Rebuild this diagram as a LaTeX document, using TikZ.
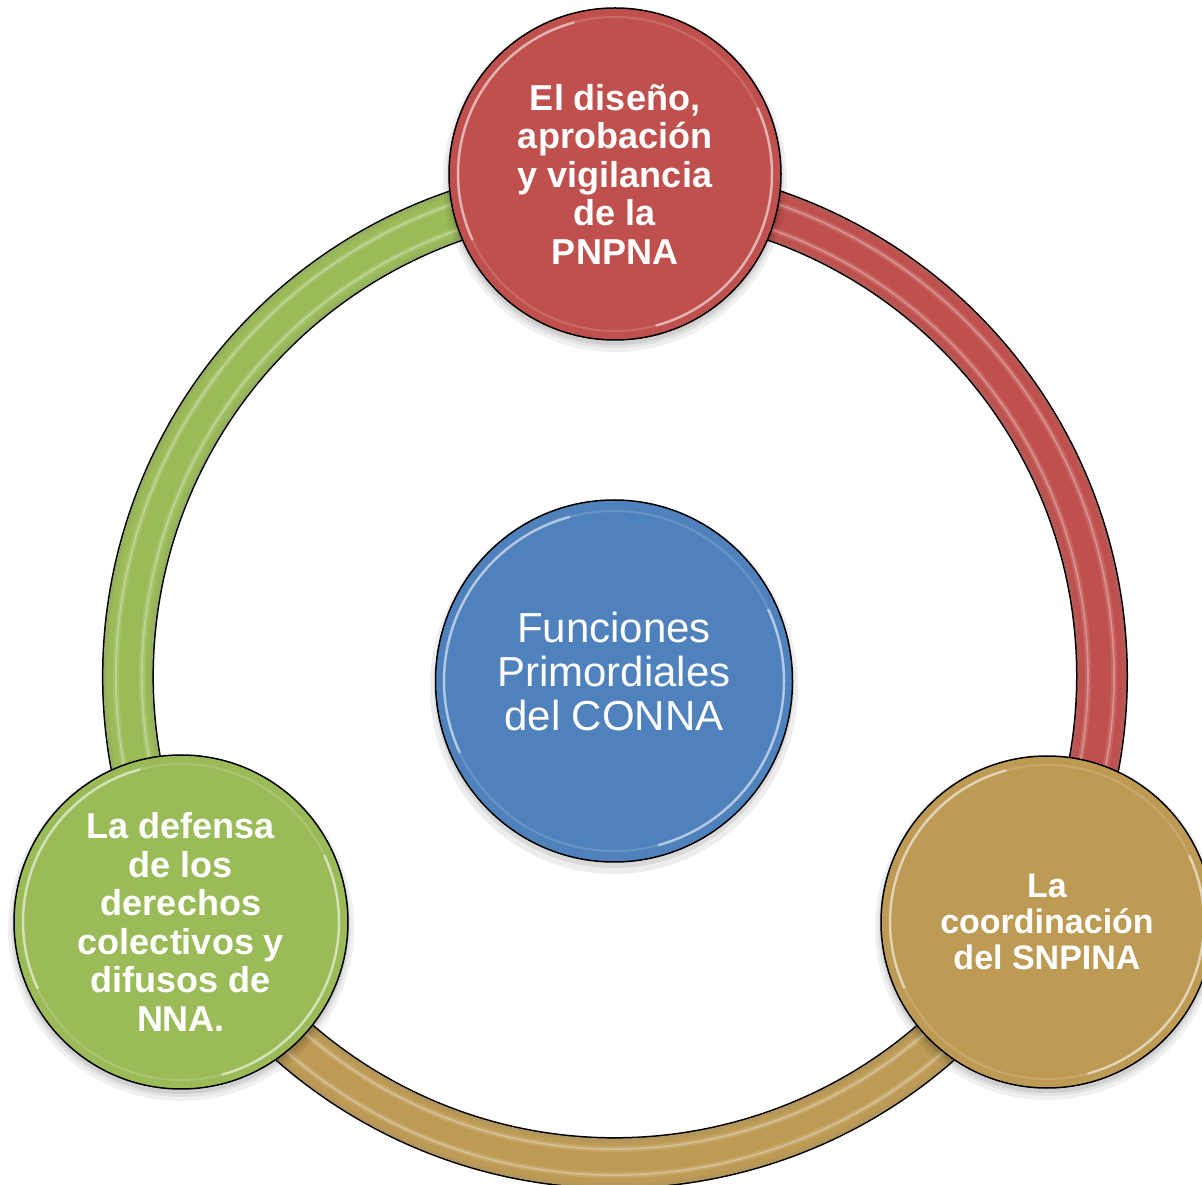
\documentclass[tikz,border=0pt]{standalone}
\usepackage{fontspec}
\setmainfont{Liberation Sans}
\usetikzlibrary{calc,shapes.geometric}
\definecolor{cred}{HTML}{C0504D}
\definecolor{cblue}{HTML}{4F81BD}
\definecolor{cgreen}{HTML}{9BBB59}
\definecolor{cgold}{HTML}{BE9B55}

\newcommand{\ringseg}[3]{%
  \draw[line width=52pt, black] ($(rc)+(#2:487)$) arc[start angle=#2, end angle=#3, radius=487];
  \draw[line width=49pt, #1!78!gray] ($(rc)+(#2:487)$) arc[start angle=#2, end angle=#3, radius=487];
  \draw[line width=45pt, #1!90!gray] ($(rc)+(#2:487)$) arc[start angle=#2, end angle=#3, radius=487];
  \draw[line width=40pt, #1] ($(rc)+(#2:487)$) arc[start angle=#2, end angle=#3, radius=487];
  \draw[line width=6pt, #1!60!white, opacity=0.3] ($(rc)+(#2:499)$) arc[start angle=#2, end angle=#3, radius=499];
  \draw[line width=1.6pt, #1!35!white, opacity=0.5] ($(rc)+(#2:499)$) arc[start angle=#2, end angle=#3, radius=499];
  \draw[line width=6pt, #1!60!white, opacity=0.3] ($(rc)+(#2:473)$) arc[start angle=#2, end angle=#3, radius=473];
  \draw[line width=1.6pt, #1!35!white, opacity=0.5] ($(rc)+(#2:473)$) arc[start angle=#2, end angle=#3, radius=473];
}
\newcommand{\softshadow}[2]{%
  \fill[black, opacity=0.06] ($(#1)+(0,-6)$) circle[radius=#2+6];
  \fill[black, opacity=0.06] ($(#1)+(0,-5)$) circle[radius=#2+3];
  \fill[black, opacity=0.08] ($(#1)+(0,-4)$) circle[radius=#2+1];
}
\newcommand{\rimlight}[2]{%
  \draw[white, opacity=0.15, line width=2pt] (#1.center) circle[radius=#2];
  \draw[white, opacity=0.5, line width=2.5pt] ($(#1.center)+(105:#2)$) arc[start angle=105, end angle=205, radius=#2];
  \draw[white, opacity=0.5, line width=2.5pt] ($(#1.center)+(-75:#2)$) arc[start angle=-75, end angle=25, radius=#2];
}

\tikzset{
  bubble/.style={circle, draw=black, line width=1.5pt, inner sep=0pt, text=white, align=center},
  outertext/.style={font=\bfseries\fontsize{36}{38.5}\selectfont},
}

\begin{document}
\begin{tikzpicture}[x=1pt,y=1pt]
\useasboundingbox (0,0) rectangle (1202,1184);
\coordinate (rc) at (615,508);
\coordinate (pr) at (615,1010);
\coordinate (pg) at (181,262);
\coordinate (py) at (1047,262);
\coordinate (pb) at (614,503);

% ring segments
\ringseg{cred}{90}{-30}
\ringseg{cgold}{-30}{-150}
\ringseg{cgreen}{210}{90}

% shadows
\softshadow{pr}{166}
\softshadow{pg}{167}
\softshadow{py}{166}
\fill[black, opacity=0.07] ($(pb)+(0,-6)$) ellipse[x radius=184, y radius=187];
\fill[black, opacity=0.08] ($(pb)+(0,-4)$) ellipse[x radius=180, y radius=183];

% circles
\node[bubble, fill=cred, minimum size=332pt, outertext] (red) at (pr)
  {El diseño,\\aprobación\\y vigilancia\\de la\\PNPNA};
\node[bubble, fill=cgreen, minimum size=334pt, outertext] (green) at (pg)
  {La defensa\\de los\\derechos\\colectivos y\\difusos de\\NNA.};
\node[bubble, fill=cgold, minimum size=332pt, font=\bfseries\fontsize{34}{36}\selectfont] (gold) at (py)
  {La\\coordinación\\del SNPINA};
\node[ellipse, draw=black, line width=1.5pt, fill=cblue, minimum width=357pt, minimum height=362pt, inner sep=0pt] (blue) at (pb) {};

\rimlight{red}{157}
\rimlight{green}{158}
\rimlight{gold}{157}
\rimlight{blue}{170}

\node[text=white, align=center, inner sep=0pt, font=\fontsize{42}{44}\selectfont] (ctext) at (614,512.3)
  {Funciones\\Primordiales\\del CONNA};
\end{tikzpicture}
\end{document}
